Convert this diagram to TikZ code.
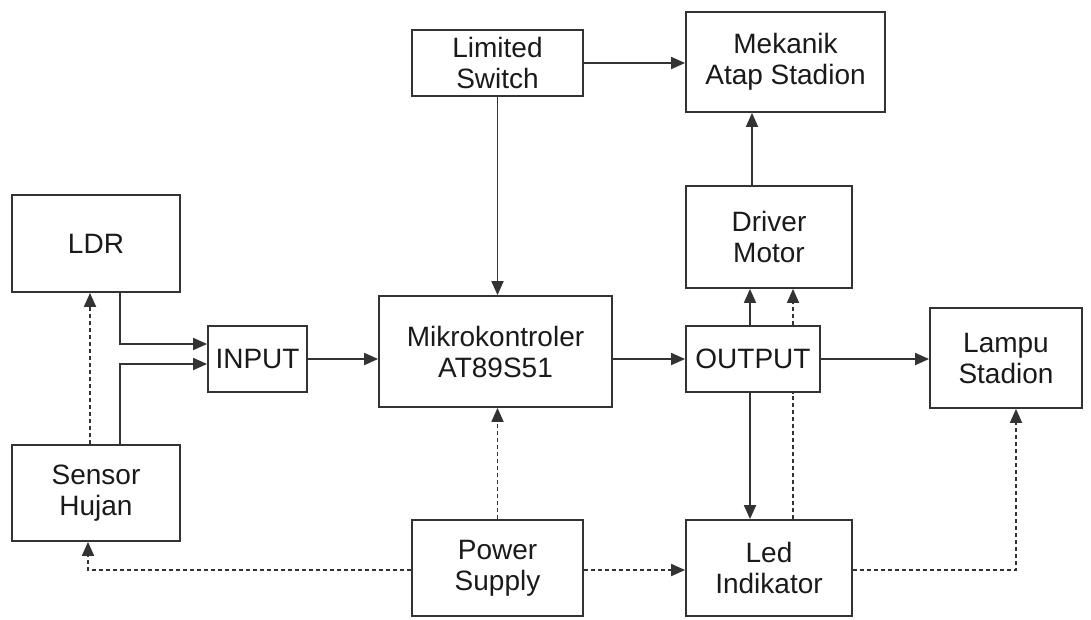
\documentclass[tikz,border=0pt]{standalone}
\usepackage{fontspec}
\setmainfont{Liberation Sans}
\usetikzlibrary{arrows.meta,calc,backgrounds}
\definecolor{ln}{HTML}{333333}
\definecolor{tx}{HTML}{1A1A1A}
\tikzset{
  box/.style={draw=ln, line width=1.8pt, fill=white, inner sep=0pt, align=center,
    text=tx, font=\fontsize{28pt}{31pt}\selectfont},
  arr/.style={draw=ln, line width=1.8pt, -{Triangle[length=14pt,width=12pt]}},
  darr/.style={arr, dash pattern=on 4pt off 3pt},
}
\begin{document}
\begin{tikzpicture}[x=1pt,y=-1pt]
\begin{pgfonlayer}{background}
\fill[white] (0,0) rectangle (1091,619);
\end{pgfonlayer}
\useasboundingbox (0,0) rectangle (1091,619);
\node[box, minimum width=168pt, minimum height=97pt] (LDR) at (96,243.5) {LDR};
\node[box, minimum width=168pt, minimum height=96pt] (SH) at (96,493) {Sensor\\Hujan};
\node[box, minimum width=99pt, minimum height=66pt] (IN) at (257.5,359) {INPUT};
\node[box, minimum width=233pt, minimum height=111pt] (MK) at (495.5,351.5) {Mikrokontroler\\AT89S51};
\node[box, minimum width=171pt, minimum height=66pt] (LS) at (497.5,63) {Limited\\Switch};
\node[box, minimum width=199pt, minimum height=100pt] (MA) at (785.5,62) {Mekanik\\Atap Stadion};
\node[box, minimum width=166pt, minimum height=102pt] (DM) at (769,237) {Driver\\Motor};
\node[box, minimum width=134pt, minimum height=66pt] (OUT) at (753,359) {OUTPUT};
\node[box, minimum width=152pt, minimum height=100pt] (LP) at (1006,358) {Lampu\\Stadion};
\node[box, minimum width=171pt, minimum height=96pt] (PS) at (497.5,568) {Power\\Supply};
\node[box, minimum width=166pt, minimum height=96pt] (LED) at (769,568) {Led\\Indikator};

% solid connectors
\draw[arr] ([xshift=24pt]LDR.south) |- ([yshift=15pt]IN.west);
\draw[arr] ([xshift=24pt]SH.north) |- ([yshift=-5pt]IN.west);
\draw[arr] (IN.east) -- (IN.east -| MK.west);
\draw[arr] (LS.south) -- (LS.south |- MK.north);
\draw[arr] (LS.east) -- (LS.east -| MA.west);
\draw[arr] ([xshift=-17pt]DM.north) -- ([xshift=-17pt]DM.north |- MA.south);
\draw[arr] (MK.east |- OUT.west) -- (OUT.west);
\draw[arr] ([xshift=-3pt]OUT.north) -- ([xshift=-3pt]OUT.north |- DM.south);
\draw[arr] ([xshift=-3pt]OUT.south) -- ([xshift=-3pt]OUT.south |- LED.north);
\draw[arr] (OUT.east) -- (OUT.east -| LP.west);

% dashed connectors
\draw[darr] ([xshift=-6pt]SH.north) -- ([xshift=-6pt]LDR.south);
\draw[darr, -] ([xshift=24pt]LED.north) -- ([xshift=24pt]LED.north |- OUT.south);
\draw[darr] ([xshift=24pt]LED.north |- OUT.north) -- ([xshift=24pt]LED.north |- DM.south);
\draw[darr] (PS.north) -- (PS.north |- MK.south);
\draw[darr] ([yshift=-2pt]PS.west) -| ([xshift=-8pt]SH.south);
\draw[darr] ([yshift=-2pt]PS.east) -- ([yshift=-2pt]PS.east -| LED.west);
\draw[darr] ([yshift=-2pt]LED.east) -| ([xshift=10pt]LP.south);
\end{tikzpicture}
\end{document}
